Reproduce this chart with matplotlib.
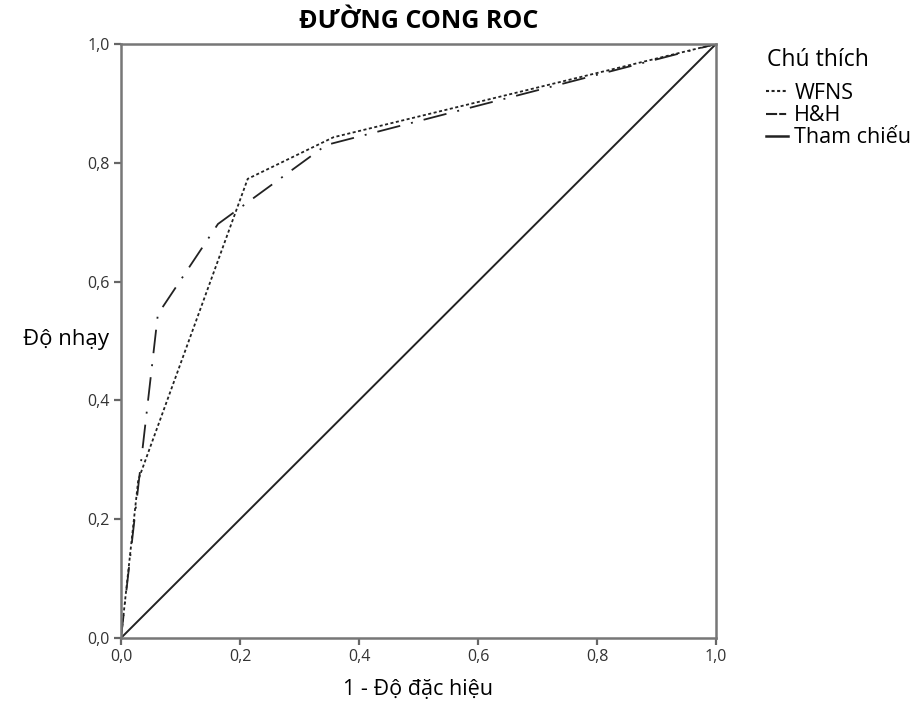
import matplotlib
matplotlib.use("Agg")
import matplotlib.pyplot as plt
from matplotlib.lines import Line2D

# ROC curve values
fpr_wfns = [0.0, 0.029, 0.213, 0.357, 1.0]
tpr_wfns = [0.0, 0.266, 0.773, 0.843, 1.0]
fpr_hh = [0.0, 0.062, 0.163, 0.345, 1.0]
tpr_hh = [0.0, 0.545, 0.697, 0.830, 1.0]
ref_line = [0.0, 1.0]
ticks = [0.0, 0.2, 0.4, 0.6, 0.8, 1.0]
tick_labels = ["0,0", "0,2", "0,4", "0,6", "0,8", "1,0"]
series_names = ["WFNS", "H&H", "Tham chiếu"]

plt.rcParams['font.family'] = ['Open Sans', 'DejaVu Sans']
plt.rcParams['lines.scale_dashes'] = False

fig = plt.figure(figsize=(9.2, 7.1), dpi=100)
ax = fig.add_axes([0.1315, 0.1014, 0.6467, 0.8366])

line_col = '#222222'
ax.plot(fpr_wfns, tpr_wfns, color=line_col, lw=1.3, dashes=(2.2, 1.8))
ax.plot(fpr_hh, tpr_hh, color=line_col, lw=1.3, dashes=(17, 8, 1.4, 8))
ax.plot(ref_line, ref_line, color=line_col, lw=1.4)

ax.set_xlim(0, 1)
ax.set_ylim(0, 1)
ax.set_xticks(ticks)
ax.set_xticklabels(tick_labels)
ax.set_yticks(ticks)
ax.set_yticklabels(tick_labels)
ax.tick_params(direction='out', length=5, width=1.6, color='#666666',
               labelsize=11.5, labelcolor='#333333', pad=3)
for sp in ax.spines.values():
    sp.set_color('#777777')
    sp.set_linewidth(1.8)

ax.set_title("ĐƯỜNG CONG ROC", fontsize=18, fontweight='bold', pad=11.5)
ax.set_xlabel("1 - Độ đặc hiệu", fontsize=15.5, labelpad=10)
ax.set_ylabel("Độ nhạy", fontsize=16, rotation=0, ha='center', va='center')
ax.yaxis.set_label_coords(-0.092, 0.502)

# legend: title drawn separately so the gap under it matches
fig.text(0.834, 1 - 60 / 710, "Chú thích", fontsize=16.5, va='center', ha='left')
handles = [
    Line2D([], [], color=line_col, lw=1.5, dashes=(2.2, 1.8)),
    Line2D([], [], color=line_col, lw=1.5, dashes=(8, 1.5, 5, 1.5)),
    Line2D([], [], color=line_col, lw=1.8),
]
leg = fig.legend(handles, series_names, loc='upper left',
                 bbox_to_anchor=(0.833, 1 - 83 / 710), frameon=False,
                 fontsize=15.5, handlelength=1.0, handletextpad=0.3,
                 labelspacing=0.05, borderpad=0, borderaxespad=0)

fig.savefig("out.png", dpi=100)
